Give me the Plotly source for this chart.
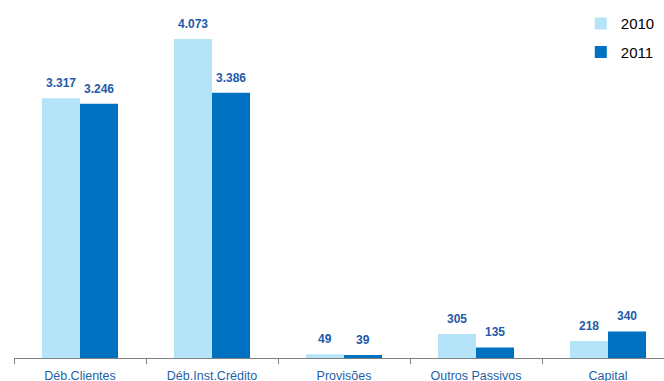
import plotly.graph_objects as go

categories = ["Déb.Clientes", "Déb.Inst.Crédito", "Provisões", "Outros Passivos", "Capital"]
values_2010 = [3317, 4073, 49, 305, 218]
values_2011 = [3246, 3386, 39, 135, 340]
labels_2010 = ["3.317", "4.073", "49", "305", "218"]
labels_2011 = ["3.246", "3.386", "39", "135", "340"]

LIGHT = "#B5E4F8"
DARK = "#0070C0"
LABEL = "#1F5AA8"

fig = go.Figure()
fig.add_trace(go.Bar(x=categories, y=values_2010, name="2010", marker_color=LIGHT,
                     marker_line_width=0, legendgroup="a"))
fig.add_trace(go.Bar(x=categories, y=values_2011, name="2011", marker_color=DARK,
                     marker_line_width=0, legendgroup="b"))

ann = []
for c, v, t in zip(categories, values_2010, labels_2010):
    ann.append(dict(x=c, y=v, text=t, xshift=-19, yshift=6, yanchor="bottom",
                    showarrow=False, font=dict(family="Liberation Sans, Arial", size=12,
                                               color=LABEL, weight="bold")))
for c, v, t in zip(categories, values_2011, labels_2011):
    ann.append(dict(x=c, y=v, text=t, xshift=19, yshift=6, yanchor="bottom",
                    showarrow=False, font=dict(family="Liberation Sans, Arial", size=12,
                                               color=LABEL, weight="bold")))

fig.update_layout(
    width=664, height=381,
    margin=dict(l=14, r=0, t=10, b=23),
    paper_bgcolor="white", plot_bgcolor="white",
    barmode="group", bargap=0.424, bargroupgap=0,
    annotations=ann,
    showlegend=True,
    legend=dict(x=0.872, y=1.008, xanchor="left", yanchor="top",
                font=dict(family="Liberation Sans, Arial", size=15, color="#000000"),
                tracegroupgap=6, itemwidth=30, bgcolor="rgba(0,0,0,0)"),
    font=dict(family="Liberation Sans, Arial"),
)
fig.update_xaxes(range=[-0.5, -0.5 + 650 / 132], showline=True, linecolor="#808080",
                 linewidth=1, ticks="outside", tickson="boundaries", ticklen=5,
                 tickcolor="#808080", showgrid=False, ticklabelstandoff=6,
                 automargin=False,
                 tickfont=dict(size=12.5, color="#1F5FA8"))
fig.update_yaxes(range=[0, 4444], visible=False, showgrid=False, automargin=False)

fig.write_html("out.html")
